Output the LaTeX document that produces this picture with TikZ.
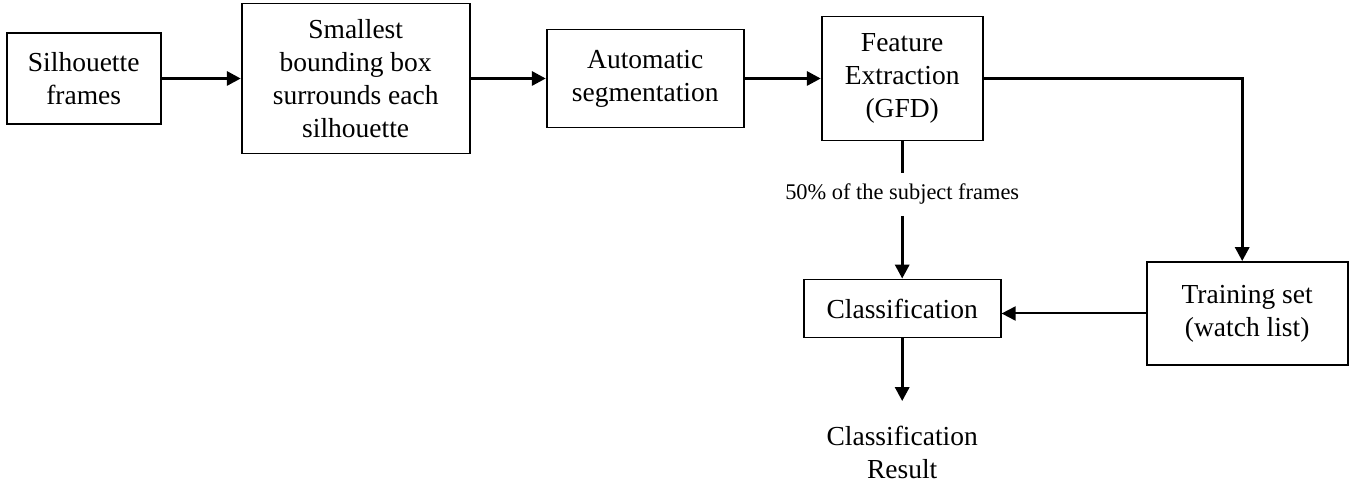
\documentclass[tikz,border=0pt]{standalone}
\usepackage{fontspec}
\setmainfont{Liberation Serif}
\usepackage{tikz}
\usetikzlibrary{arrows.meta}

\begin{document}
\begin{tikzpicture}[node distance = 136pt,
  block/.style = {draw, line width=0.9pt, align=center, inner sep=2pt, font=\fontsize{13.75}{16.5}\selectfont},
  flow/.style = {-{Triangle[length=7pt,width=7pt]}, line width=1.6pt}]
\useasboundingbox (0,0) rectangle (677pt,-242.5pt);
\node[block,minimum width=77pt,minimum height=45.5pt] (sil) at (41.85pt,-39.25pt) {Silhouette\\frames};
\node[block,minimum width=114pt,minimum height=75pt] (bbox) [right of = sil] {Smallest\\bounding box\\surrounds each\\silhouette};
\node[block,minimum width=98.5pt,minimum height=49pt] (seg) [node distance = 144.75pt, right of = bbox] {Automatic\\segmentation};
\node[block,minimum width=80.5pt,minimum height=62pt] (feat) [node distance = 128.5pt, right of = seg] {Feature\\Extraction\\(GFD)};
\node[font=\fontsize{11.2}{13}\selectfont,minimum height=21pt,inner sep=0pt] (lbl) [node distance = 58pt, below of = feat] {50\% of the subject frames};
\node[block,minimum width=98.5pt,minimum height=29pt] (class) [node distance = 57pt, below of = lbl] {Classification};
\node[block,minimum width=100.5pt,minimum height=51.5pt] (train) [node distance = 172.5pt, right of = class, yshift=-2.5pt] {Training set\\(watch list)};
\node[align=center,font=\fontsize{13.75}{16.5}\selectfont,minimum height=51pt,inner sep=0pt] (res) [node distance = 72pt, below of = class] {Classification\\Result};

\path[flow] (sil) edge (bbox)
        (bbox) edge (seg)
        (seg) edge (feat)
        (lbl) edge (class)
        (class) edge (res);
\draw[line width=1.6pt] (feat) -- (lbl);
\draw[flow] (feat.east) -| ([xshift=-2.5pt]train.north);
\draw[flow,line width=1pt] (train) -- (train -| class.east);
\end{tikzpicture}
\end{document}
